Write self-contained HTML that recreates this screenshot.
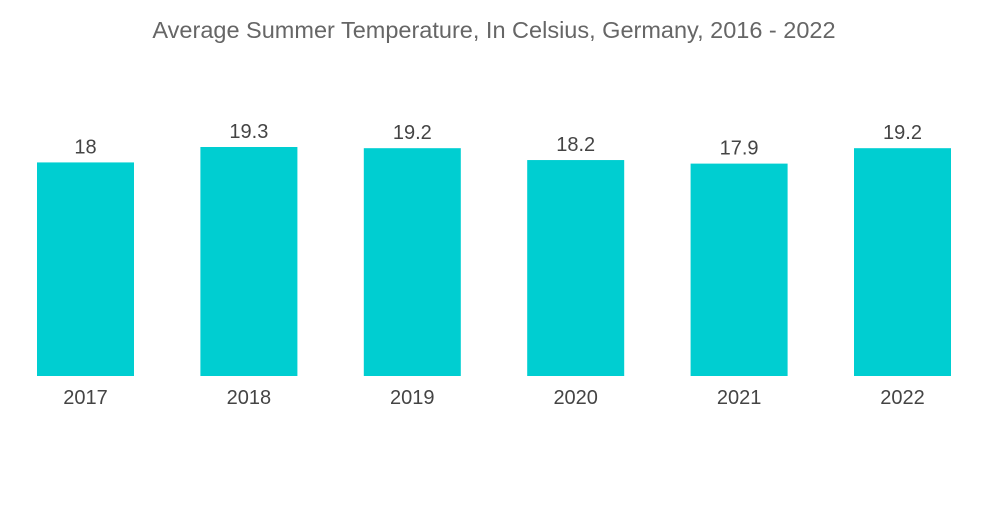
<!DOCTYPE html>
<html><head><meta charset="utf-8"><style>
body{margin:0;background:#fff;width:1000px;height:504px;overflow:hidden;font-family:"Liberation Sans",sans-serif}
</style></head><body>
<svg width="1000" height="504">
<text x="494" y="38" text-anchor="middle" font-size="23.5" fill="#666">Average Summer Temperature, In Celsius, Germany, 2016 - 2022</text>
<g id="bars"></g>
</svg>
<script>
const categories=["2017","2018","2019","2020","2021","2022"];
const values=[18,19.3,19.2,18.2,17.9,19.2];
const valueLabels=["18","19.3","19.2","18.2","17.9","19.2"];
const baseY=376, scale=229/19.3;
const x0=37, step=163.4, bw=97;
const y=v=>baseY-v*scale;
const g=document.getElementById('bars');
const ns="http://www.w3.org/2000/svg";
categories.forEach((c,i)=>{
  const x=x0+i*step;
  const r=document.createElementNS(ns,'rect');
  r.setAttribute('x',x);r.setAttribute('y',y(values[i]));
  r.setAttribute('width',bw);r.setAttribute('height',baseY-y(values[i]));
  r.setAttribute('fill','#00CED1');
  
  
  g.appendChild(r);
  const t=document.createElementNS(ns,'text');
  t.setAttribute('x',x+bw/2);t.setAttribute('y',y(values[i])-9);
  t.setAttribute('text-anchor','middle');t.setAttribute('font-size','20');t.setAttribute('fill','#444');
  t.textContent=valueLabels[i];
  
  
  g.appendChild(t);
  const l=document.createElementNS(ns,'text');
  l.setAttribute('x',x+bw/2);l.setAttribute('y',404);
  l.setAttribute('text-anchor','middle');l.setAttribute('font-size','20');l.setAttribute('fill','#444');
  l.textContent=c;
  
  
  g.appendChild(l);
});
</script>
</body></html>
